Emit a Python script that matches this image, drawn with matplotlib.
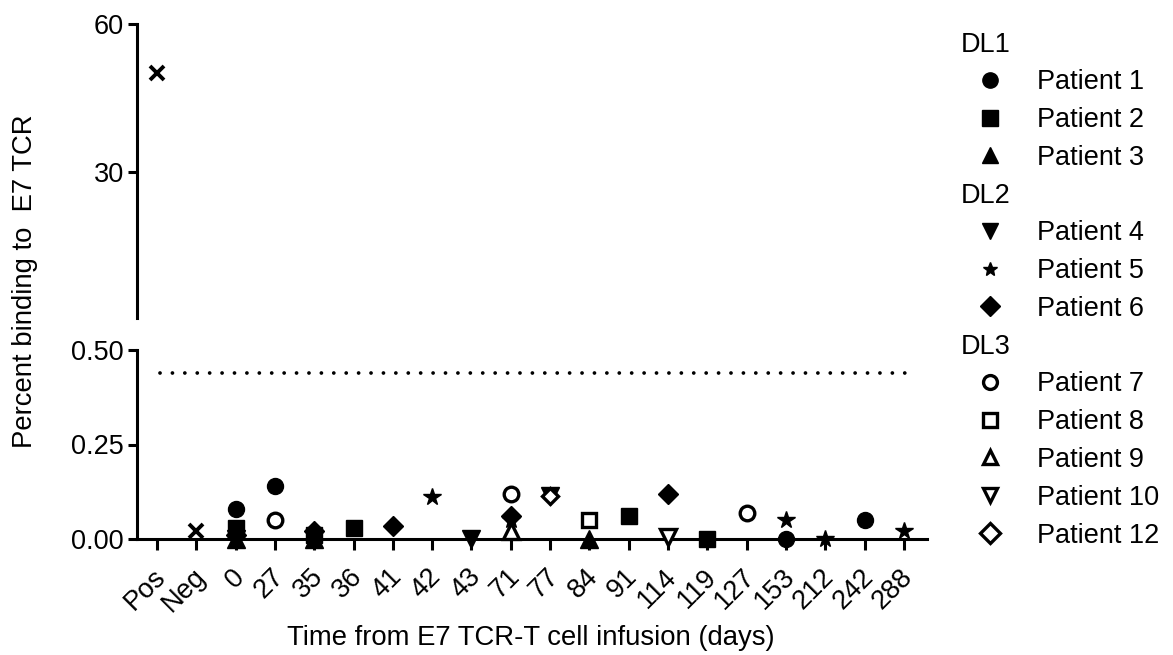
import matplotlib
matplotlib.use("Agg")
import matplotlib.pyplot as plt
from matplotlib.transforms import ScaledTranslation

plt.rcParams['font.family'] = ['Liberation Sans', 'DejaVu Sans']

# ---------------- data ----------------
categories = ["Pos", "Neg", "0", "27", "35", "36", "41", "42", "43", "71",
              "77", "84", "91", "114", "119", "127", "153", "212", "242", "288"]
pos_control = 50.0
neg_control = 0.02
cutoff = 0.44

p1_days = ["0", "27", "153", "242"];            p1_vals = [0.08, 0.14, 0.0, 0.05]
p2_days = ["0", "35", "36", "91", "119"];       p2_vals = [0.03, 0.01, 0.03, 0.06, 0.0]
p3_days = ["0", "35", "84"];                    p3_vals = [0.0, 0.0, 0.0]
p4_days = ["0", "43", "77"];                    p4_vals = [0.0, 0.0, 0.115]
p5_days = ["0", "42", "71", "153", "212", "288"]; p5_vals = [0.0, 0.11, 0.05, 0.05, 0.0, 0.02]
p6_days = ["0", "35", "41", "71", "114"];       p6_vals = [0.01, 0.02, 0.035, 0.06, 0.12]
p7_days = ["27", "71", "127"];                  p7_vals = [0.05, 0.12, 0.07]
p8_days = ["84"];                               p8_vals = [0.05]
p9_days = ["71"];                               p9_vals = [0.02]
p10_days = ["114"];                             p10_vals = [0.005]
p12_days = ["77"];                              p12_vals = [0.115]

patient_labels = ["Patient 1", "Patient 2", "Patient 3", "Patient 4", "Patient 5",
                  "Patient 6", "Patient 7", "Patient 8", "Patient 9", "Patient 10",
                  "Patient 12"]
group_labels = ["DL1", "DL2", "DL3"]

series = [(p1_days, p1_vals), (p2_days, p2_vals), (p3_days, p3_vals),
          (p4_days, p4_vals), (p5_days, p5_vals), (p6_days, p6_vals),
          (p7_days, p7_vals), (p8_days, p8_vals), (p9_days, p9_vals),
          (p10_days, p10_vals), (p12_days, p12_vals)]

# marker styles (marker, filled, plot size, legend size)
styles = [("o", True, 11.5, 11), ("s", True, 11.5, 11), ("^", True, 12.5, 11),
          ("v", True, 12.5, 11), ("*", True, 13, 10.5), ("D", True, 10, 10.5),
          ("o", False, 10.5, 10), ("s", False, 10.5, 10), ("^", False, 11, 10.5),
          ("v", False, 11, 10.5), ("D", False, 8.5, 10)]

FS = 19.5
LW = 2.2

fig = plt.figure(figsize=(11.73, 6.55), dpi=100)
W, H = 1173.0, 655.0
left = 137 / W
width = (927 - 137) / W
ax_lo = fig.add_axes([left, 1 - 539 / H, width, (539 - 350) / H])
ax_hi = fig.add_axes([left, 1 - 318 / H, width, (318 - 24) / H])

xidx = {c: i for i, c in enumerate(categories)}
xlim = (-0.51, 19.59)

for ax in (ax_lo, ax_hi):
    ax.set_xlim(*xlim)
    ax.patch.set_alpha(0)
    for s in ("top", "right"):
        ax.spines[s].set_visible(False)
    ax.spines["left"].set_linewidth(LW)
    ax.spines["bottom"].set_linewidth(LW)
    ax.tick_params(axis="y", length=6.5, width=LW, labelsize=FS, pad=3)

ax_lo.set_ylim(0, 0.5)
ax_lo.set_yticks([0.0, 0.25, 0.5])
ax_lo.set_yticklabels(["0.00", "0.25", "0.50"])
ax_lo.set_xticks(range(len(categories)))
ax_lo.set_xticklabels(categories, rotation=45, ha="right", va="center",
                      rotation_mode="anchor", fontsize=FS)
ax_lo.tick_params(axis="x", length=8, width=LW, pad=15)
offset = ScaledTranslation(5 / 100, -2 / 100, fig.dpi_scale_trans)
for lab in ax_lo.get_xticklabels():
    lab.set_transform(lab.get_transform() + offset)

ax_hi.set_ylim(0.5, 60)
ax_hi.set_yticks([30, 60])
ax_hi.spines["bottom"].set_visible(False)
ax_hi.set_xticks([])

# cutoff line
ax_lo.axhline(cutoff, xmin=0.029, xmax=0.987, color="black", lw=2.7,
              linestyle=(0, (0.01, 3.3)), dash_capstyle="round")

# controls
ax_hi.plot([xidx["Pos"]], [pos_control], linestyle="none", marker="x", ms=10.5,
           mew=2.8, color="black", clip_on=False)
ax_lo.plot([xidx["Neg"]], [neg_control], linestyle="none", marker="x", ms=10.5,
           mew=2.8, color="black", clip_on=False, zorder=5)

# patients
for (days, vals), (mk, filled, ms, _) in zip(series, styles):
    xs = [xidx[d] for d in days]
    if filled:
        ax_lo.plot(xs, vals, linestyle="none", marker=mk, ms=ms, mfc="black",
                   mec="black", mew=1, clip_on=False, zorder=5)
    else:
        ax_lo.plot(xs, vals, linestyle="none", marker=mk, ms=ms, mfc="white",
                   mec="black", mew=2.4, clip_on=False, zorder=5)

# axis labels
fig.text(25 / W, 1 - 281 / H, "Percent binding to  E7 TCR", rotation=90,
         ha="center", va="center", fontsize=FS + 0.3)
fig.text(531 / W, 1 - 638 / H, "Time from E7 TCR-T cell infusion (days)",
         ha="center", va="center", fontsize=FS + 0.3)

# ----- legend (drawn in pixel coordinates) -----
leg = fig.add_axes([0, 0, 1, 1], zorder=-1)
leg.set_xlim(0, W)
leg.set_ylim(H, 0)
leg.axis("off")
row_y0, row_dy = 42, 37.77
row = 0
groups = [(group_labels[0], [0, 1, 2]), (group_labels[1], [3, 4, 5]),
          (group_labels[2], [6, 7, 8, 9, 10])]
for gname, members in groups:
    y = row_y0 + row * row_dy
    leg.text(961, y + 9.5, gname, fontsize=FS, ha="left", va="baseline")
    row += 1
    for m in members:
        y = row_y0 + row * row_dy
        mk, filled, _, lms = styles[m]
        if filled:
            leg.plot([990], [y], marker=mk, ms=lms, mfc="black", mec="black",
                     mew=1, linestyle="none")
        else:
            leg.plot([990], [y], marker=mk, ms=lms, mfc="white", mec="black",
                     mew=2.4, linestyle="none")
        leg.text(1037, y + 9.5, patient_labels[m], fontsize=FS, ha="left",
                 va="baseline")
        row += 1

fig.savefig("out.png", dpi=100)
